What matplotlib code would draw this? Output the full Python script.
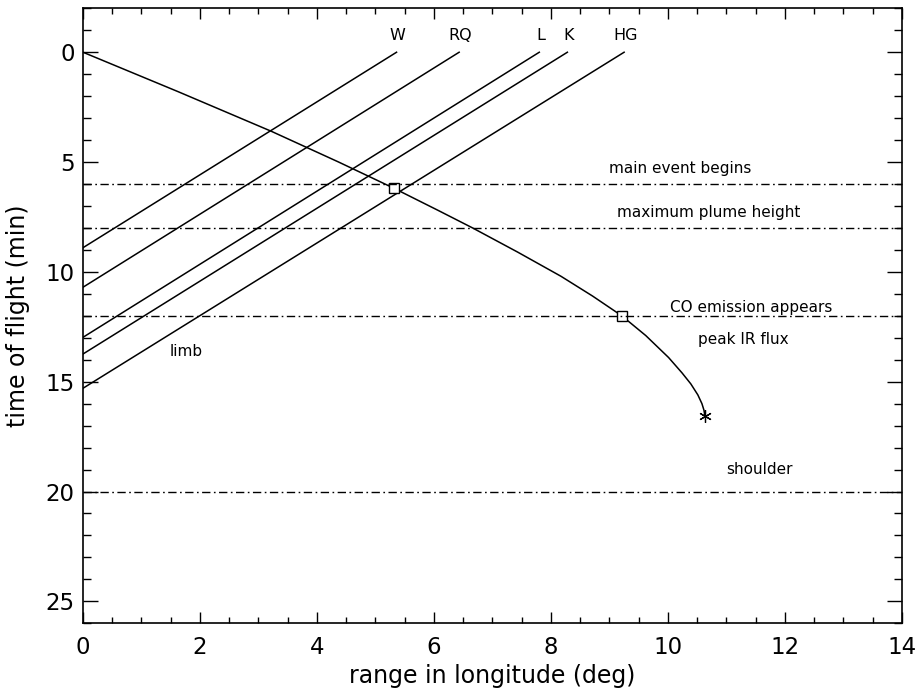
import numpy as np
import matplotlib.pyplot as plt
from matplotlib.ticker import MultipleLocator

# impactor site lines: (range at t=0 label end, time at range 0)
sites = ["W", "RQ", "L", "K", "HG"]
site_x_top = [5.36, 6.43, 7.80, 8.28, 9.25]
site_t_start = [8.9, 10.7, 12.98, 13.74, 15.3]

# plume trajectory
traj_t = [0, 1.8, 3.6, 5.0, 6.2, 7.2, 8.0, 9.1, 10.2, 11.1, 12.0,
          12.9, 13.9, 14.6, 15.1, 15.6, 16.0, 16.3, 16.54]
traj_x = [0, 1.63, 3.22, 4.37, 5.32, 6.07, 6.66, 7.43, 8.17, 8.71, 9.21,
          9.62, 10.01, 10.24, 10.39, 10.51, 10.58, 10.615, 10.63]
box_x = [5.32, 9.21]
box_t = [6.2, 12.0]
end_x, end_t = 10.63, 16.54

# event times (horizontal dash-dot lines)
events_t = [6, 8, 12, 20]
notes = ["main event begins", "maximum plume height", "CO emission appears",
         "peak IR flux", "shoulder", "limb"]
notes_x = [10.2, 10.7, 11.43, 11.28, 11.56, 1.77]
notes_t = [5.3, 7.3, 11.6, 13.1, 19.0, 13.63]

fig = plt.figure(figsize=(9.19, 6.92), dpi=100)
ax = fig.add_axes([0.0903, 0.0993, 0.8912, 0.8887])

for name, xt, t0 in zip(sites, site_x_top, site_t_start):
    ax.plot([0, xt], [t0, 0], color="black", lw=1.1)
    ax.text(xt + 0.02, -0.75, name, ha="center", va="center", fontsize=11.5)

ax.plot(traj_x, traj_t, color="black", lw=1.1)
ax.plot(box_x, box_t, ls="none", marker="s", ms=7, mfc="white",
        mec="black", mew=1.0)
ax.plot([end_x], [end_t], ls="none", marker=(6, 2, 0), ms=9,
        color="black", mew=0.9)

for t in events_t:
    ax.plot([0, 14], [t, t], color="black", lw=1.0,
            dashes=(6, 2.5, 1.2, 2.5))

for s, x, t in zip(notes, notes_x, notes_t):
    ax.text(x, t, s, ha="center", va="center", fontsize=11)

ax.set_xlim(0, 14)
ax.set_ylim(26, -2)
ax.xaxis.set_major_locator(MultipleLocator(2))
ax.xaxis.set_minor_locator(MultipleLocator(0.5))
ax.yaxis.set_major_locator(MultipleLocator(5))
ax.yaxis.set_minor_locator(MultipleLocator(1))
ax.tick_params(which="both", direction="in", top=True, right=True,
               labelsize=16.5, width=1.0)
ax.tick_params(axis="x", which="major", length=8, pad=9)
ax.tick_params(axis="x", which="minor", length=4.5)
ax.tick_params(axis="y", which="major", length=11, pad=6)
ax.tick_params(axis="y", which="minor", length=6)
for sp in ax.spines.values():
    sp.set_linewidth(1.2)

ax.set_xlabel("range in longitude (deg)", fontsize=17, labelpad=4)
ax.set_ylabel("time of flight (min)", fontsize=17, labelpad=11)

fig.savefig("out.png", dpi=100)
